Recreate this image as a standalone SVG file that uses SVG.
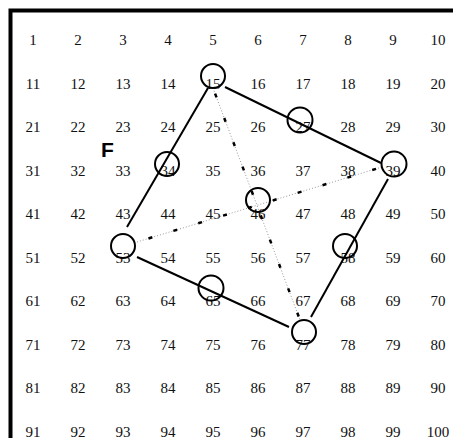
<svg xmlns="http://www.w3.org/2000/svg" width="453" height="438" viewBox="0 0 453 438">
<style>
.n{font-family:"Liberation Serif","Times New Roman",serif;font-size:15px;fill:#111;text-anchor:middle}
.c{fill:none;stroke:#000;stroke-width:2}
.s{stroke:#000;stroke-width:2;fill:none}
.dg{stroke:#999;stroke-width:1;stroke-dasharray:1 2;fill:none}
.db{stroke:#000;stroke-width:2.5;stroke-dasharray:4 22;fill:none}
</style>
<rect x="0" y="0" width="453" height="438" fill="#fff"/>
<rect x="10.5" y="10.5" width="460" height="450" fill="none" stroke="#000" stroke-width="4"/>
<g id="grid">
<text class="n" x="33" y="45">1</text><text class="n" x="78" y="45">2</text><text class="n" x="123" y="45">3</text><text class="n" x="168" y="45">4</text><text class="n" x="213" y="45">5</text><text class="n" x="258" y="45">6</text><text class="n" x="303" y="45">7</text><text class="n" x="348" y="45">8</text><text class="n" x="393" y="45">9</text><text class="n" x="438" y="45">10</text>
<text class="n" x="33" y="88.5">11</text><text class="n" x="78" y="88.5">12</text><text class="n" x="123" y="88.5">13</text><text class="n" x="168" y="88.5">14</text><text class="n" x="213" y="88.5">15</text><text class="n" x="258" y="88.5">16</text><text class="n" x="303" y="88.5">17</text><text class="n" x="348" y="88.5">18</text><text class="n" x="393" y="88.5">19</text><text class="n" x="438" y="88.5">20</text>
<text class="n" x="33" y="132">21</text><text class="n" x="78" y="132">22</text><text class="n" x="123" y="132">23</text><text class="n" x="168" y="132">24</text><text class="n" x="213" y="132">25</text><text class="n" x="258" y="132">26</text><text class="n" x="303" y="132">27</text><text class="n" x="348" y="132">28</text><text class="n" x="393" y="132">29</text><text class="n" x="438" y="132">30</text>
<text class="n" x="33" y="175.5">31</text><text class="n" x="78" y="175.5">32</text><text class="n" x="123" y="175.5">33</text><text class="n" x="168" y="175.5">34</text><text class="n" x="213" y="175.5">35</text><text class="n" x="258" y="175.5">36</text><text class="n" x="303" y="175.5">37</text><text class="n" x="348" y="175.5">38</text><text class="n" x="393" y="175.5">39</text><text class="n" x="438" y="175.5">40</text>
<text class="n" x="33" y="219">41</text><text class="n" x="78" y="219">42</text><text class="n" x="123" y="219">43</text><text class="n" x="168" y="219">44</text><text class="n" x="213" y="219">45</text><text class="n" x="258" y="219">46</text><text class="n" x="303" y="219">47</text><text class="n" x="348" y="219">48</text><text class="n" x="393" y="219">49</text><text class="n" x="438" y="219">50</text>
<text class="n" x="33" y="262.5">51</text><text class="n" x="78" y="262.5">52</text><text class="n" x="123" y="262.5">53</text><text class="n" x="168" y="262.5">54</text><text class="n" x="213" y="262.5">55</text><text class="n" x="258" y="262.5">56</text><text class="n" x="303" y="262.5">57</text><text class="n" x="348" y="262.5">58</text><text class="n" x="393" y="262.5">59</text><text class="n" x="438" y="262.5">60</text>
<text class="n" x="33" y="306">61</text><text class="n" x="78" y="306">62</text><text class="n" x="123" y="306">63</text><text class="n" x="168" y="306">64</text><text class="n" x="213" y="306">65</text><text class="n" x="258" y="306">66</text><text class="n" x="303" y="306">67</text><text class="n" x="348" y="306">68</text><text class="n" x="393" y="306">69</text><text class="n" x="438" y="306">70</text>
<text class="n" x="33" y="349.5">71</text><text class="n" x="78" y="349.5">72</text><text class="n" x="123" y="349.5">73</text><text class="n" x="168" y="349.5">74</text><text class="n" x="213" y="349.5">75</text><text class="n" x="258" y="349.5">76</text><text class="n" x="303" y="349.5">77</text><text class="n" x="348" y="349.5">78</text><text class="n" x="393" y="349.5">79</text><text class="n" x="438" y="349.5">80</text>
<text class="n" x="33" y="393">81</text><text class="n" x="78" y="393">82</text><text class="n" x="123" y="393">83</text><text class="n" x="168" y="393">84</text><text class="n" x="213" y="393">85</text><text class="n" x="258" y="393">86</text><text class="n" x="303" y="393">87</text><text class="n" x="348" y="393">88</text><text class="n" x="393" y="393">89</text><text class="n" x="438" y="393">90</text>
<text class="n" x="33" y="436.5">91</text><text class="n" x="78" y="436.5">92</text><text class="n" x="123" y="436.5">93</text><text class="n" x="168" y="436.5">94</text><text class="n" x="213" y="436.5">95</text><text class="n" x="258" y="436.5">96</text><text class="n" x="303" y="436.5">97</text><text class="n" x="348" y="436.5">98</text><text class="n" x="393" y="436.5">99</text><text class="n" x="438" y="436.5">100</text>
</g>
<text id="label-F" x="101" y="157" font-family="Liberation Sans, Arial, sans-serif" font-weight="bold" font-size="21" fill="#000">F</text>
<g id="connectors">
<line class="s" x1="225" y1="87" x2="381" y2="163"/>
<line class="s" x1="208" y1="88" x2="127" y2="227"/>
<line class="s" x1="137" y1="257" x2="289" y2="327"/>
<line class="s" x1="388" y1="179" x2="311" y2="317"/>
<line class="dg" x1="213" y1="88" x2="300" y2="320"/>
<line class="db" x1="213" y1="88" x2="300" y2="320" stroke-dashoffset="-6"/>
<line class="dg" x1="137" y1="242" x2="382" y2="167"/>
<line class="db" x1="137" y1="242" x2="382" y2="167" stroke-dashoffset="-12"/>
</g>
<g id="c15"><circle class="c" cx="213" cy="76" r="12"/></g>
<g id="c27"><circle class="c" cx="300" cy="120" r="12.5"/></g>
<g id="c34"><circle class="c" cx="167" cy="164" r="12"/></g>
<g id="c39"><circle class="c" cx="394" cy="164" r="12.5"/></g>
<g id="c46"><circle class="c" cx="258" cy="200" r="12"/></g>
<g id="c53"><circle class="c" cx="123" cy="246" r="12"/></g>
<g id="c58"><circle class="c" cx="345" cy="246" r="12"/></g>
<g id="c65"><circle class="c" cx="211" cy="288" r="12.5"/></g>
<g id="c77"><circle class="c" cx="304" cy="332" r="12"/></g>
</svg>
